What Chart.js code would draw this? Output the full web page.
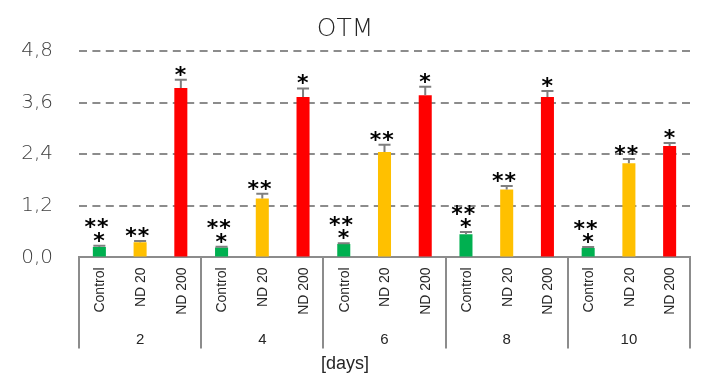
<!DOCTYPE html>
<html>
<head>
<meta charset="utf-8">
<title>OTM</title>
<script src="https://cdn.jsdelivr.net/npm/chart.js@4.4.0/dist/chart.umd.min.js"></script>
<style>
  html, body { margin: 0; padding: 0; background: #fff; }
  #wrap { width: 712px; height: 376px; }
</style>
</head>
<body>
<div id="wrap"><canvas id="otmChart" width="712" height="376"></canvas></div>
<script>
// Days of treatment (outer category level)
const days = ['2', '4', '6', '8', '10'];
// Groups shown inside each day (inner category level)
const groupNames = ['Control', 'ND 20', 'ND 200'];

// Mean values per group
const controlValues = [0.24, 0.23, 0.31, 0.54, 0.22];
const nd20Values = [0.35, 1.37, 2.45, 1.58, 2.19];
const nd200Values = [3.94, 3.73, 3.77, 3.73, 2.59];

// Upper error (SD) per group
const controlErrors = [0.03, 0.02, 0.02, 0.05, 0.02];
const nd20Errors = [0.03, 0.11, 0.17, 0.08, 0.10];
const nd200Errors = [0.19, 0.20, 0.20, 0.14, 0.07];

// Significance marks above each group's bars (rows top to bottom)
const controlMarks = ['**', '*'];
const nd20Marks = ['**'];
const nd200Marks = ['*'];

// y axis ticks
const yTickValues = [0, 1.2, 2.4, 3.6, 4.8];

const axisGray = '#8c8c8c';
const textColor = '#262626';

const groupColors = ['#00b050', '#ffc000', '#ff0000'];
const groupValues = [controlValues, nd20Values, nd200Values];
const groupErrors = [controlErrors, nd20Errors, nd200Errors];
const groupMarks = [controlMarks, nd20Marks, nd200Marks];

// Error bars + asterisks on top of each bar
const errorBarPlugin = {
  id: 'errorBars',
  afterDatasetsDraw(chart) {
    const ctx = chart.ctx;
    const y = chart.scales.y;
    ctx.save();
    chart.data.datasets.forEach((ds, di) => {
      const meta = chart.getDatasetMeta(di);
      meta.data.forEach((bar, i) => {
        const top = y.getPixelForValue(ds.data[i] + ds.errors[i]);
        const half = bar.width / 2 - 0.5;
        ctx.strokeStyle = '#7f7f7f';
        ctx.lineWidth = 2;
        ctx.beginPath();
        ctx.moveTo(bar.x, bar.y);
        ctx.lineTo(bar.x, top);
        ctx.moveTo(bar.x - half, top);
        ctx.lineTo(bar.x + half, top);
        ctx.stroke();

        // asterisks, drawn one glyph at a time so they can be spaced
        ctx.font = 'bold 22px "DejaVu Sans"';
        ctx.fillStyle = '#000';
        ctx.textAlign = 'left';
        ctx.textBaseline = 'alphabetic';
        const m = ctx.measureText('*');
        const dx = (m.actualBoundingBoxRight - m.actualBoundingBoxLeft) / 2;
        const dy = (m.actualBoundingBoxDescent - m.actualBoundingBoxAscent) / 2;
        const rows = ds.marks;
        rows.forEach((row, r) => {
          const cy = top - 9 - (rows.length - 1 - r) * 13.3;
          const n = row.length;
          const cx0 = n > 1 ? bar.x - 2.5 : bar.x;
          for (let k = 0; k < n; k++) {
            const cx = cx0 + (k - (n - 1) / 2) * 12.5;
            ctx.fillText('*', cx - dx, cy - dy);
          }
        });
      });
    });
    ctx.restore();
  }
};

// Two-level category axis: group separators and rotated group names
const groupAxisPlugin = {
  id: 'groupAxis',
  afterDraw(chart) {
    const ctx = chart.ctx;
    const x = chart.scales.x;
    const step = x.width / days.length;
    ctx.save();
    ctx.strokeStyle = axisGray;
    ctx.lineWidth = 2;
    ctx.beginPath();
    for (let i = 0; i <= days.length; i++) {
      const px = Math.round(x.left + i * step);
      ctx.moveTo(px, x.top);
      ctx.lineTo(px, x.top + 91);
    }
    ctx.stroke();

    ctx.font = '14px "Liberation Sans"';
    ctx.fillStyle = textColor;
    ctx.textAlign = 'right';
    ctx.textBaseline = 'middle';
    chart.data.datasets.forEach((ds, di) => {
      chart.getDatasetMeta(di).data.forEach(bar => {
        ctx.save();
        ctx.translate(bar.x + 1, x.top + 10);
        ctx.rotate(-Math.PI / 2);
        ctx.fillText(ds.label, 0, 0);
        ctx.restore();
      });
    });
    ctx.restore();
  }
};

const ctx = document.getElementById('otmChart');

const chart = new Chart(ctx, {
  type: 'bar',
  data: {
    labels: days,
    datasets: groupNames.map((name, i) => ({
      label: name,
      data: groupValues[i],
      errors: groupErrors[i],
      marks: groupMarks[i],
      backgroundColor: groupColors[i],
      borderWidth: 0,
      categoryPercentage: 1,
      barPercentage: 0.32
    }))
  },
  options: {
    responsive: false,
    animation: false,
    devicePixelRatio: 1,
    layout: { padding: { left: 0, right: 22, top: 0, bottom: 0 } },
    plugins: {
      legend: { display: false },
      tooltip: { enabled: false },
      title: {
        display: true,
        text: 'OTM',
        color: textColor,
        font: { family: 'DejaVu Sans', size: 25, weight: 200 },
        padding: { top: 14, bottom: 7 }
      },
      subtitle: {
        display: true,
        position: 'bottom',
        text: '[days]',
        color: textColor,
        font: { family: 'Liberation Sans', size: 18, weight: 'normal' },
        padding: { top: 0, bottom: 1 }
      }
    },
    scales: {
      x: {
        grid: { display: false },
        border: { display: true, color: axisGray, width: 2 },
        ticks: {
          color: textColor,
          font: { family: 'Liberation Sans', size: 15 },
          padding: 65,
          maxRotation: 0
        },
        afterFit(scale) { scale.height = 96; }
      },
      y: {
        min: 0,
        max: 4.8,
        afterBuildTicks(scale) {
          scale.ticks = yTickValues.map(v => ({ value: v }));
        },
        grid: {
          color: c => (c.tick && c.tick.value === 0 ? 'rgba(0,0,0,0)' : axisGray),
          lineWidth: 2,
          drawTicks: false
        },
        border: { display: false, dash: [8, 5.4] },
        ticks: {
          color: '#404040',
          font: { family: 'DejaVu Sans', size: 20, weight: 200 },
          padding: 26,
          callback: v => v.toFixed(1).replace('.', ',')
        },
        afterFit(scale) { scale.width = 79; }
      }
    }
  },
  plugins: [errorBarPlugin, groupAxisPlugin]
});
</script>
</body>
</html>
